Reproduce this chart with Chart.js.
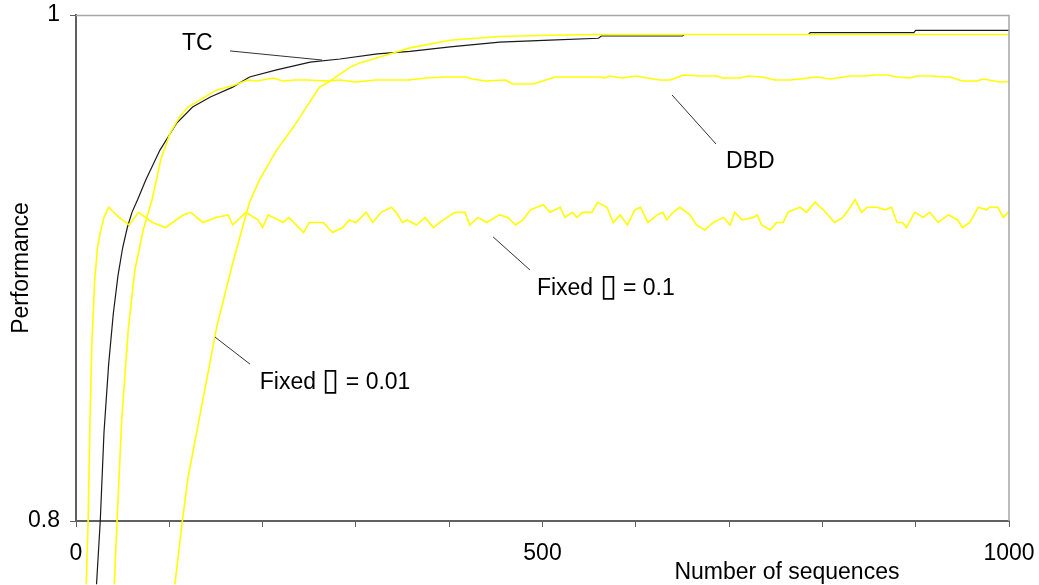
<!DOCTYPE html>
<html><head><meta charset="utf-8">
<script src="https://cdn.jsdelivr.net/npm/chart.js@4.4.1/dist/chart.umd.min.js"></script>
<style>html,body{margin:0;padding:0;background:#fff;overflow:hidden}#wrap{width:1039px;height:585px}</style>
</head><body><div id="wrap"><canvas id="c" width="1039" height="585"></canvas></div>
<script>
// ---- tick labels & titles ----
const xTickValues = [0,100,200,300,400,500,600,700,800,900,1000];
const xTickLabels = ['0','','','','','500','','','','','1000'];
const yTickValues = [0.8, 1];
const yTickLabels = ['0.8', '1'];
const xTitle = 'Number of sequences';
const yTitle = 'Performance';
const seriesNames = ['TC', 'DBD', 'Fixed \u25AF = 0.1', 'Fixed \u25AF = 0.01'];

// ---- TC (black) ----
const tcSeq  = [22,26,30,35,40,45,50,55,60,66,75,90,108,125,144,168,186,215,251,283,323,358,401,454,508,560,563,650,652,785,787,898,900,1000];
const tcPerf = [0.775,0.800,0.835,0.862,0.882,0.897,0.908,0.916,0.922,0.927,0.935,0.9466,0.9573,0.9636,0.9676,0.9715,0.9755,0.9783,0.9814,0.9826,0.9846,0.9856,0.9874,0.9893,0.9901,0.9908,0.9917,0.9917,0.9923,0.9923,0.9930,0.9930,0.9939,0.9939];

// ---- DBD (yellow) ----
const dbdSeq  = [41,44,49,56,63,72,81.5,91,101,111,120,151,168,184,193,200,211,222,235,246,271,283,300,321,357,375,396,418,425,439,460,468,490,500,514,535,562,567,572,585,601,612,626,637,651,669,687,693,712,720,736,749,765,776,794,808,830,846,856,869,880,894,901,915,937,950,966,972,990,1000];
const dbdPerf = [0.775,0.800,0.840,0.8755,0.899,0.915,0.927,0.943,0.9534,0.9597,0.9636,0.9704,0.9720,0.9743,0.9739,0.9743,0.9751,0.9739,0.9743,0.9743,0.9739,0.9743,0.9735,0.9743,0.9743,0.9751,0.9755,0.9755,0.9747,0.9739,0.9743,0.9727,0.9727,0.9739,0.9755,0.9755,0.9755,0.9751,0.9759,0.9751,0.9759,0.9751,0.9743,0.9743,0.9763,0.9759,0.9759,0.9751,0.9751,0.9759,0.9755,0.9743,0.9743,0.9747,0.9755,0.9747,0.9759,0.9759,0.9763,0.9763,0.9755,0.9751,0.9759,0.9759,0.9755,0.9739,0.9739,0.9747,0.9735,0.9737];

// ---- Fixed eta = 0.1 (yellow) ----
const f1Seq  = [11,13,15,17,20,23,26,30,35,46,57,67,82,96,115,123,136,150,163,168,182,195,200,206,222,228,236,244,250,265,275,286,293,300,311,318,327,338,343,350,355,365,374,383,390,406,417,422,431,440,454,463,471,479,487,501,508,519,524,532,537,543,553,559,569,576,583,591,599,605,613,623,629,633,640,647,658,665,674,683,694,701,706,714,726,730,735,744,751,758,763,776,783,792,801,813,822,828,835,842,848,859,867,874,880,886,890,899,908,915,924,935,945,950,958,967,976,979,988,994,999,1000];
const f1Perf = [0.775,0.800,0.840,0.870,0.895,0.908,0.914,0.920,0.924,0.920,0.917,0.922,0.918,0.916,0.921,0.922,0.918,0.920,0.921,0.917,0.922,0.919,0.916,0.921,0.918,0.920,0.917,0.914,0.918,0.918,0.914,0.916,0.919,0.918,0.922,0.918,0.922,0.924,0.922,0.918,0.919,0.917,0.920,0.916,0.918,0.922,0.922,0.917,0.920,0.918,0.921,0.920,0.917,0.919,0.923,0.925,0.922,0.924,0.920,0.922,0.920,0.922,0.922,0.926,0.924,0.918,0.921,0.917,0.923,0.924,0.918,0.921,0.922,0.919,0.922,0.924,0.921,0.917,0.915,0.918,0.920,0.917,0.922,0.919,0.920,0.921,0.917,0.915,0.918,0.918,0.922,0.924,0.922,0.926,0.923,0.918,0.920,0.923,0.927,0.922,0.924,0.924,0.923,0.924,0.918,0.918,0.916,0.922,0.920,0.922,0.918,0.921,0.919,0.916,0.918,0.924,0.923,0.924,0.924,0.920,0.922,0.922];

// ---- Fixed eta = 0.01 (yellow) ----
const f01Seq  = [106,114,120,135,151,168,186,197,215,233,261,269,294,304,340,358,401,454,508,560,1000];
const f01Perf = [0.775,0.800,0.817,0.846,0.877,0.902,0.926,0.935,0.9466,0.9557,0.9715,0.9731,0.9794,0.9810,0.9850,0.9870,0.9900,0.9915,0.9920,0.9923,0.9923];

function pts(xs, ys) { return xs.map((x, i) => ({ x: x, y: ys[i] })); }

const FONT = "'Liberation Sans', Arial, Helvetica, sans-serif";
const YELLOW = '#FFFF00';

const labelPlugin = {
  id: 'labels',
  afterDraw(chart) {
    const ctx = chart.ctx, xs = chart.scales.x, ys = chart.scales.y, ca = chart.chartArea;
    ctx.save();
    // top and right frame
    ctx.strokeStyle = '#a6a6a6';
    ctx.lineWidth = 1.5;
    ctx.beginPath();
    ctx.moveTo(ca.left, ca.top + 0.5);
    ctx.lineTo(ca.right, ca.top + 0.5);
    ctx.lineTo(ca.right, ca.bottom);
    ctx.stroke();
    // annotations: [label index, text seq, text perf, leader from, leader to]
    const ann = [
      [0, 113.6, 0.9893, [165, 0.9858], [263.7, 0.9822]],
      [1, 696.7, 0.9427, [638.8, 0.9684], [686, 0.9490]],
      [2, 494, 0.8925, [447, 0.9123], [486.6, 0.8992]],
      [3, 197, 0.8553, [149, 0.8727], [186.5, 0.8620]]
    ];
    ctx.strokeStyle = '#333';
    ctx.lineWidth = 1;
    ctx.fillStyle = '#000';
    ctx.textAlign = 'left';
    ctx.textBaseline = 'alphabetic';
    ann.forEach(a => {
      ctx.beginPath();
      ctx.moveTo(xs.getPixelForValue(a[3][0]), ys.getPixelForValue(a[3][1]));
      ctx.lineTo(xs.getPixelForValue(a[4][0]), ys.getPixelForValue(a[4][1]));
      ctx.stroke();
      let x = xs.getPixelForValue(a[1]);
      const base = ys.getPixelForValue(a[2]) + 8;
      // split around the placeholder box glyph so it can be drawn at its own size
      const parts = seriesNames[a[0]].split('\u25AF');
      parts.forEach((p, k) => {
        if (k > 0) {
          ctx.font = '31px ' + FONT;
          ctx.fillText('\u25AF', x, base + 1);
          x += ctx.measureText('\u25AF').width;
        }
        ctx.font = '23px ' + FONT;
        ctx.fillText(p, x, base);
        x += ctx.measureText(p).width;
      });
    });
    // axis titles
    ctx.font = '23px ' + FONT;
    ctx.textAlign = 'center';
    ctx.textBaseline = 'middle';
    ctx.fillText(xTitle, xs.getPixelForValue(762), ca.bottom + 52);
    ctx.translate(22, (ca.top + ca.bottom) / 2);
    ctx.rotate(-Math.PI / 2);
    ctx.fillText(yTitle, 0, 0);
    ctx.restore();
  }
};

const ds = (label, xs, ys, color, w) => ({
  label, data: pts(xs, ys), borderColor: color, borderWidth: w,
  pointRadius: 0, tension: 0, fill: false, clip: false
});

new Chart(document.getElementById('c'), {
  type: 'line',
  data: {
    datasets: [
      ds(seriesNames[3], f01Seq, f01Perf, YELLOW, 1.6),
      ds(seriesNames[1], dbdSeq, dbdPerf, YELLOW, 1.6),
      ds(seriesNames[2], f1Seq, f1Perf, YELLOW, 1.6),
      ds(seriesNames[0], tcSeq, tcPerf, '#1a1a1a', 1.2)
    ]
  },
  options: {
    responsive: false,
    animation: false,
    events: [],
    layout: { padding: { left: 0, top: 15, right: 30, bottom: 0 } },
    plugins: { legend: { display: false }, tooltip: { enabled: false }, title: { display: false } },
    scales: {
      x: {
        type: 'linear', min: 0, max: 1000,
        afterBuildTicks: s => { s.ticks = xTickValues.map(v => ({ value: v })); },
        afterFit: s => { s.height = 64; s.paddingLeft = 0; s.paddingRight = 0; },
        ticks: {
          autoSkip: false, maxRotation: 0, minRotation: 0, padding: 13,
          color: '#000', font: { family: FONT, size: 23 },
          callback: (v, i) => xTickLabels[i]
        },
        grid: { drawOnChartArea: false, drawTicks: true, tickLength: 6, color: '#606060', lineWidth: 1 },
        border: { display: true, color: '#606060', width: 2 }
      },
      y: {
        type: 'linear', min: 0.8, max: 1,
        afterBuildTicks: s => { s.ticks = yTickValues.map(v => ({ value: v })); },
        afterFit: s => { s.width = 76; s.paddingTop = 0; s.paddingBottom = 0; },
        ticks: {
          autoSkip: false, padding: 10,
          color: '#000', font: { family: FONT, size: 23 },
          callback: (v, i) => yTickLabels[i]
        },
        grid: { drawOnChartArea: false, drawTicks: true, tickLength: 6, color: '#606060', lineWidth: 1 },
        border: { display: true, color: '#606060', width: 2 }
      }
    }
  },
  plugins: [labelPlugin]
});
</script>
</body></html>
